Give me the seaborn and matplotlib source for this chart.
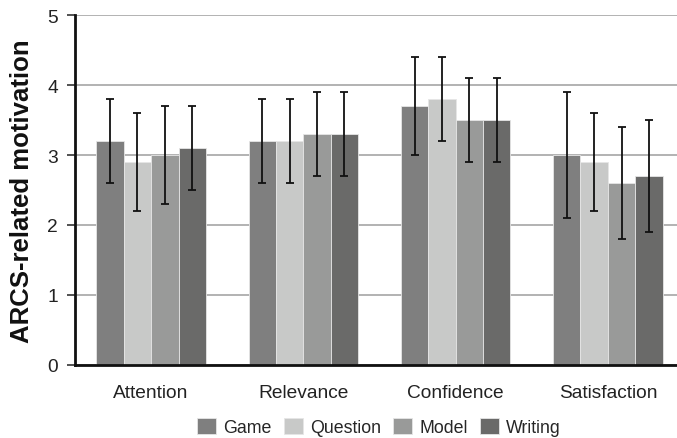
import matplotlib
matplotlib.use("Agg")
import matplotlib.pyplot as plt
import seaborn as sns
import pandas as pd
import numpy as np

categories = ["Attention", "Relevance", "Confidence", "Satisfaction"]
groups = ["Game", "Question", "Model", "Writing"]

# mean ARCS scores per category (rows follow groups)
means = {
    "Game":     [3.2, 3.2, 3.7, 3.0],
    "Question": [2.9, 3.2, 3.8, 2.9],
    "Model":    [3.0, 3.3, 3.5, 2.6],
    "Writing":  [3.1, 3.3, 3.5, 2.7],
}
# lower and upper ends of the error bars
err_low = {
    "Game":     [2.6, 2.6, 3.0, 2.1],
    "Question": [2.2, 2.6, 3.2, 2.2],
    "Model":    [2.3, 2.7, 2.9, 1.8],
    "Writing":  [2.5, 2.7, 2.9, 1.9],
}
err_high = {
    "Game":     [3.8, 3.8, 4.4, 3.9],
    "Question": [3.6, 3.8, 4.4, 3.6],
    "Model":    [3.7, 3.9, 4.1, 3.4],
    "Writing":  [3.7, 3.9, 4.1, 3.5],
}
colors = ["#7f7f7f", "#c8c9c8", "#999a99", "#6a6a69"]

rows = []
for g in groups:
    for i, c in enumerate(categories):
        rows.append({"category": c, "group": g, "score": means[g][i]})
df = pd.DataFrame(rows)

sns.set_style("white")
plt.rcParams["font.family"] = ["Liberation Sans", "DejaVu Sans"]

fig = plt.figure(figsize=(6.77, 4.39), dpi=100)
ax = fig.add_axes([75 / 677, 1 - 366 / 439, 609 / 677, 350 / 439])

sns.barplot(data=df, x="category", y="score", hue="group", order=categories,
            hue_order=groups, palette=colors, width=0.72, ax=ax,
            edgecolor="#e6e6e6", linewidth=0.6, legend=True, zorder=2)

# asymmetric error bars placed at the drawn bar centres
for g, cont in zip(groups, ax.containers):
    xs = [b.get_x() + b.get_width() / 2 for b in cont]
    ys = np.array(means[g])
    lo = ys - np.array(err_low[g])
    hi = np.array(err_high[g]) - ys
    ax.errorbar(xs, ys, yerr=[lo, hi], fmt="none", ecolor="#111111",
                elinewidth=1.3, capsize=3, capthick=1.3, zorder=3)

ax.set_ylim(0, 5)
ax.set_xlim(-0.5, 3.5)
ax.set_yticks([0, 1, 2, 3, 4, 5])
ax.yaxis.grid(True, color="#a6a6a6", linewidth=1.2, zorder=0)
ax.set_axisbelow(True)

ax.set_xticks(range(len(categories)))
ax.set_xticklabels(categories, fontsize=13.8, color="#222222")
ax.tick_params(axis="x", which="major", length=0, pad=14)
ax.set_xticks(np.arange(-0.5, 4, 1), minor=True)
ax.tick_params(axis="x", which="minor", length=6, width=1.2, color="#333333", direction="out")
ax.tick_params(axis="y", length=6, width=1.2, color="#333333", labelsize=13.8,
               labelcolor="#222222", left=True, pad=6.5)

for s in ["top", "right"]:
    ax.spines[s].set_visible(False)
for s in ["left", "bottom"]:
    ax.spines[s].set_color("#111111")
    ax.spines[s].set_linewidth(2)

ax.set_xlabel("")
ax.set_ylabel("ARCS-related motivation", fontsize=18.5, fontweight="bold",
              color="#111111", labelpad=9)

handles, labels = ax.get_legend_handles_labels()
ax.get_legend().remove()
fig.legend(handles, labels, loc="center", bbox_to_anchor=(379 / 677, 1 - 428 / 439),
           ncol=4, frameon=False, fontsize=12.8, handlelength=1.05, handleheight=1.05,
           handletextpad=0.4, columnspacing=0.7)

fig.savefig("out.png", dpi=100)
